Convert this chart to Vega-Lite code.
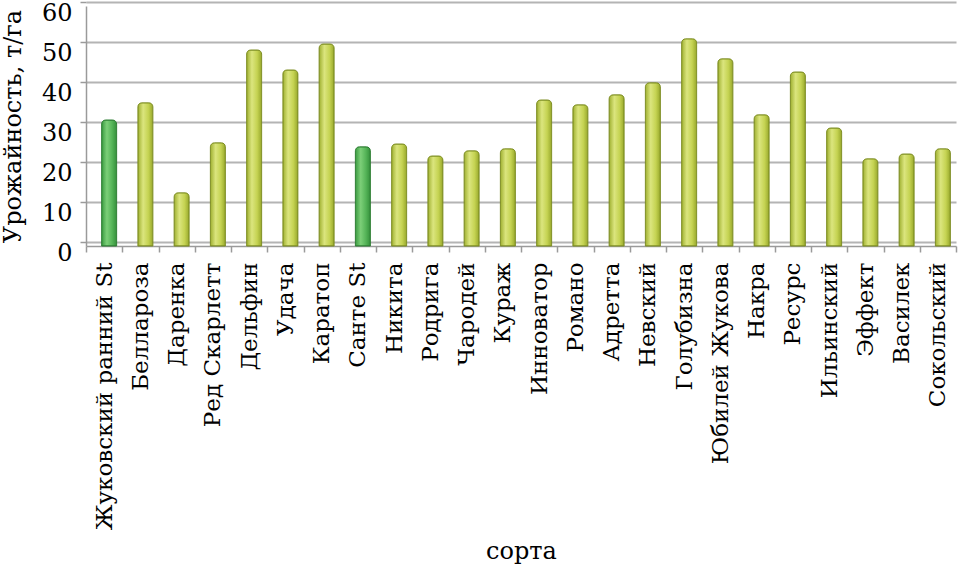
{
  "$schema": "https://vega.github.io/schema/vega-lite/v6.json",
  "width": 870,
  "height": 240,
  "autosize": {"type": "none"},
  "padding": {"left": 86, "top": 6, "right": 14, "bottom": 323},
  "background": "white",
  "config": {
    "view": {"stroke": null},
    "axis": {"labelColor": "#000000", "titleColor": "#000000", "titleFontWeight": "normal", "labelFont": "DejaVu Serif", "titleFont": "DejaVu Serif"}
  },
  "data": {
    "values": [
      {"sort": "Жуковский ранний St", "yield": 31.5, "group": "St"},
      {"sort": "Беллароза", "yield": 35.8, "group": "v"},
      {"sort": "Даренка", "yield": 13.3, "group": "v"},
      {"sort": "Ред Скарлетт", "yield": 25.8, "group": "v"},
      {"sort": "Дельфин", "yield": 49.0, "group": "v"},
      {"sort": "Удача", "yield": 44.0, "group": "v"},
      {"sort": "Каратоп", "yield": 50.5, "group": "v"},
      {"sort": "Санте St", "yield": 24.8, "group": "St"},
      {"sort": "Никита", "yield": 25.5, "group": "v"},
      {"sort": "Родрига", "yield": 22.5, "group": "v"},
      {"sort": "Чародей", "yield": 23.8, "group": "v"},
      {"sort": "Кураж", "yield": 24.3, "group": "v"},
      {"sort": "Инноватор", "yield": 36.5, "group": "v"},
      {"sort": "Романо", "yield": 35.3, "group": "v"},
      {"sort": "Адретта", "yield": 37.8, "group": "v"},
      {"sort": "Невский", "yield": 40.8, "group": "v"},
      {"sort": "Голубизна", "yield": 51.8, "group": "v"},
      {"sort": "Юбилей Жукова", "yield": 46.8, "group": "v"},
      {"sort": "Накра", "yield": 32.8, "group": "v"},
      {"sort": "Ресурс", "yield": 43.5, "group": "v"},
      {"sort": "Ильинский", "yield": 29.5, "group": "v"},
      {"sort": "Эффект", "yield": 21.8, "group": "v"},
      {"sort": "Василек", "yield": 23.0, "group": "v"},
      {"sort": "Сокольский", "yield": 24.3, "group": "v"}
    ]
  },
  "encoding": {
    "x": {
      "field": "sort", "type": "nominal",
      "sort": ["Жуковский ранний St", "Беллароза", "Даренка", "Ред Скарлетт", "Дельфин", "Удача", "Каратоп", "Санте St", "Никита", "Родрига", "Чародей", "Кураж", "Инноватор", "Романо", "Адретта", "Невский", "Голубизна", "Юбилей Жукова", "Накра", "Ресурс", "Ильинский", "Эффект", "Василек", "Сокольский"],
      "scale": {"paddingInner": 0, "paddingOuter": 0},
      "axis": {
        "title": "сорта", "titleFontSize": 24, "titlePadding": 93,
        "labelAngle": -90, "labelFontSize": 23, "labelPadding": 10,
        "labelAlign": "right", "labelBaseline": "middle",
        "tickBand": "extent", "tickSize": 6, "tickColor": "#9a9a9a", "tickWidth": 1.5,
        "domainColor": "#9a9a9a", "domainWidth": 1.5, "labelLimit": 400
      }
    },
    "y": {
      "field": "yield", "type": "quantitative",
      "scale": {"domain": [0, 60]},
      "axis": {
        "title": "Урожайность, т/га", "titleFontSize": 24, "titlePadding": 16,
        "values": [0, 10, 20, 30, 40, 50, 60],
        "tickOffset": -4, "labelOffset": 11,
        "labelFontSize": 24, "labelPadding": 8,
        "tickSize": 6, "tickColor": "#9a9a9a", "tickWidth": 1.5,
        "domainColor": "#9a9a9a", "domainWidth": 1.5,
        "grid": true, "gridColor": "#b4b4b4", "gridWidth": 2
      }
    }
  },
  "layer": [
    {
      "transform": [{"filter": "datum.group === 'v'"}],
      "mark": {
        "type": "bar", "size": 15, "xOffset": 5, "y2Offset": 2,
        "cornerRadiusTopLeft": 4, "cornerRadiusTopRight": 4,
        "stroke": "#7f8f24", "strokeWidth": 1,
        "fill": {"gradient": "linear", "x1": 0, "y1": 0, "x2": 1, "y2": 0,
          "stops": [
            {"offset": 0, "color": "#9fb030"},
            {"offset": 0.35, "color": "#dbe57e"},
            {"offset": 0.7, "color": "#c5d352"},
            {"offset": 1, "color": "#98a82c"}
          ]}
      }
    },
    {
      "transform": [{"filter": "datum.group === 'St'"}],
      "mark": {
        "type": "bar", "size": 15, "xOffset": 5, "y2Offset": 2,
        "cornerRadiusTopLeft": 4, "cornerRadiusTopRight": 4,
        "stroke": "#2e7f34", "strokeWidth": 1,
        "fill": {"gradient": "linear", "x1": 0, "y1": 0, "x2": 1, "y2": 0,
          "stops": [
            {"offset": 0, "color": "#3a9a40"},
            {"offset": 0.35, "color": "#7ccf78"},
            {"offset": 0.7, "color": "#55b458"},
            {"offset": 1, "color": "#35903b"}
          ]}
      }
    }
  ]
}
